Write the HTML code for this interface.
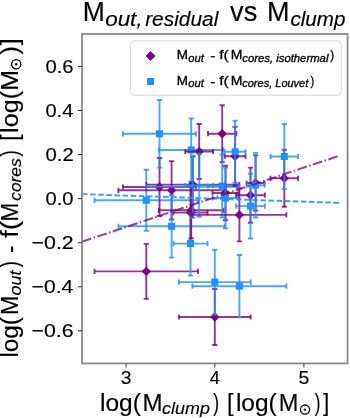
<!DOCTYPE html>
<html><head><meta charset="utf-8"><style>
html,body{margin:0;padding:0;background:#fff;}
body{width:350px;height:418px;overflow:hidden;}
svg{display:block;filter:blur(0.4px);}
text{font-family:"Liberation Sans",sans-serif;fill:#000;stroke:#000;stroke-width:0.15px;}
.lg text{stroke-width:0.3px;}
</style></head><body>
<svg width="350" height="418" viewBox="0 0 350 418">
<rect width="350" height="418" fill="#fff"/>
<g fill="none" stroke-linecap="butt">
<path d="M94.5 271.4H198.1M146.3 243.9V298.9" stroke="#800080" stroke-opacity="0.8" stroke-width="1.9"/><path d="M94.5 268.8v5.2M198.1 268.8v5.2M143.7 243.9h5.2M143.7 298.9h5.2" stroke="#800080" stroke-opacity="0.8" stroke-width="1.9"/><path d="M146.3 266.7L151.0 271.4L146.3 276.1L141.6 271.4Z" fill="#800080"/>
<path d="M94.5 200.3H198.1M146.3 169.8V230.8" stroke="#1e90ff" stroke-opacity="0.8" stroke-width="1.9"/><path d="M94.5 197.7v5.2M198.1 197.7v5.2M143.7 169.8h5.2M143.7 230.8h5.2" stroke="#1e90ff" stroke-opacity="0.8" stroke-width="1.9"/><rect x="142.8" y="196.8" width="7.0" height="7.0" fill="#1e90ff"/>
<path d="M122.9 187.0H196.1M159.5 158.0V216.0" stroke="#800080" stroke-opacity="0.8" stroke-width="1.9"/><path d="M122.9 184.4v5.2M196.1 184.4v5.2M156.9 158.0h5.2M156.9 216.0h5.2" stroke="#800080" stroke-opacity="0.8" stroke-width="1.9"/><path d="M159.5 182.3L164.2 187.0L159.5 191.7L154.8 187.0Z" fill="#800080"/>
<path d="M122.9 133.8H196.1M159.5 100.0V167.6" stroke="#1e90ff" stroke-opacity="0.8" stroke-width="1.9"/><path d="M122.9 131.2v5.2M196.1 131.2v5.2M156.9 100.0h5.2M156.9 167.6h5.2" stroke="#1e90ff" stroke-opacity="0.8" stroke-width="1.9"/><rect x="156.0" y="130.3" width="7.0" height="7.0" fill="#1e90ff"/>
<path d="M118.4 190.3H224.8M171.6 161.1V219.5" stroke="#800080" stroke-opacity="0.8" stroke-width="1.9"/><path d="M118.4 187.7v5.2M224.8 187.7v5.2M169.0 161.1h5.2M169.0 219.5h5.2" stroke="#800080" stroke-opacity="0.8" stroke-width="1.9"/><path d="M171.6 185.6L176.3 190.3L171.6 195.0L166.9 190.3Z" fill="#800080"/>
<path d="M118.4 226.3H224.8M171.6 195.0V257.6" stroke="#1e90ff" stroke-opacity="0.8" stroke-width="1.9"/><path d="M118.4 223.7v5.2M224.8 223.7v5.2M169.0 195.0h5.2M169.0 257.6h5.2" stroke="#1e90ff" stroke-opacity="0.8" stroke-width="1.9"/><rect x="168.1" y="222.8" width="7.0" height="7.0" fill="#1e90ff"/>
<path d="M173.5 212.6H207.5M190.5 184.6V240.6" stroke="#800080" stroke-opacity="0.8" stroke-width="1.9"/><path d="M173.5 210.0v5.2M207.5 210.0v5.2M187.9 184.6h5.2M187.9 240.6h5.2" stroke="#800080" stroke-opacity="0.8" stroke-width="1.9"/><path d="M190.5 207.9L195.2 212.6L190.5 217.3L185.8 212.6Z" fill="#800080"/>
<path d="M173.5 243.6H207.5M190.5 211.6V275.6" stroke="#1e90ff" stroke-opacity="0.8" stroke-width="1.9"/><path d="M173.5 241.0v5.2M207.5 241.0v5.2M187.9 211.6h5.2M187.9 275.6h5.2" stroke="#1e90ff" stroke-opacity="0.8" stroke-width="1.9"/><rect x="187.0" y="240.1" width="7.0" height="7.0" fill="#1e90ff"/>
<path d="M158.9 210.3H223.5M191.2 182.3V238.3" stroke="#800080" stroke-opacity="0.8" stroke-width="1.9"/><path d="M158.9 207.7v5.2M223.5 207.7v5.2M188.6 182.3h5.2M188.6 238.3h5.2" stroke="#800080" stroke-opacity="0.8" stroke-width="1.9"/><path d="M191.2 205.6L195.9 210.3L191.2 215.0L186.5 210.3Z" fill="#800080"/>
<path d="M158.9 150.0H223.5M191.2 118.5V181.5" stroke="#1e90ff" stroke-opacity="0.8" stroke-width="1.9"/><path d="M158.9 147.4v5.2M223.5 147.4v5.2M188.6 118.5h5.2M188.6 181.5h5.2" stroke="#1e90ff" stroke-opacity="0.8" stroke-width="1.9"/><rect x="187.7" y="146.5" width="7.0" height="7.0" fill="#1e90ff"/>
<path d="M146.3 184.6H239.3M192.8 156.6V212.6" stroke="#800080" stroke-opacity="0.8" stroke-width="1.9"/><path d="M146.3 182.0v5.2M239.3 182.0v5.2M190.2 156.6h5.2M190.2 212.6h5.2" stroke="#800080" stroke-opacity="0.8" stroke-width="1.9"/><path d="M192.8 179.9L197.5 184.6L192.8 189.3L188.1 184.6Z" fill="#800080"/>
<path d="M146.3 186.7H239.3M192.8 155.7V217.7" stroke="#1e90ff" stroke-opacity="0.8" stroke-width="1.9"/><path d="M146.3 184.1v5.2M239.3 184.1v5.2M190.2 155.7h5.2M190.2 217.7h5.2" stroke="#1e90ff" stroke-opacity="0.8" stroke-width="1.9"/>
<path d="M185.3 151.5H213.1M199.2 124.0V179.0" stroke="#800080" stroke-opacity="0.8" stroke-width="1.9"/><path d="M185.3 148.9v5.2M213.1 148.9v5.2M196.6 124.0h5.2M196.6 179.0h5.2" stroke="#800080" stroke-opacity="0.8" stroke-width="1.9"/><path d="M199.2 146.8L203.9 151.5L199.2 156.2L194.5 151.5Z" fill="#800080"/>
<path d="M185.3 185.3H213.1M199.2 153.8V216.8" stroke="#1e90ff" stroke-opacity="0.8" stroke-width="1.9"/><path d="M185.3 182.7v5.2M213.1 182.7v5.2M196.6 153.8h5.2M196.6 216.8h5.2" stroke="#1e90ff" stroke-opacity="0.8" stroke-width="1.9"/>
<path d="M178.9 317.0H250.7M214.8 289.0V345.0" stroke="#800080" stroke-opacity="0.8" stroke-width="1.9"/><path d="M178.9 314.4v5.2M250.7 314.4v5.2M212.2 289.0h5.2M212.2 345.0h5.2" stroke="#800080" stroke-opacity="0.8" stroke-width="1.9"/><path d="M214.8 312.3L219.5 317.0L214.8 321.7L210.1 317.0Z" fill="#800080"/>
<path d="M178.9 282.1H250.7M214.8 249.7V314.5" stroke="#1e90ff" stroke-opacity="0.8" stroke-width="1.9"/><path d="M178.9 279.5v5.2M250.7 279.5v5.2M212.2 249.7h5.2M212.2 314.5h5.2" stroke="#1e90ff" stroke-opacity="0.8" stroke-width="1.9"/><rect x="211.3" y="278.6" width="7.0" height="7.0" fill="#1e90ff"/>
<path d="M208.0 133.7H236.4M222.2 105.2V162.2" stroke="#800080" stroke-opacity="0.8" stroke-width="1.9"/><path d="M208.0 131.1v5.2M236.4 131.1v5.2M219.6 105.2h5.2M219.6 162.2h5.2" stroke="#800080" stroke-opacity="0.8" stroke-width="1.9"/><path d="M222.2 129.0L226.9 133.7L222.2 138.4L217.5 133.7Z" fill="#800080"/>
<path d="M208.0 186.0H236.4M222.2 154.5V217.5" stroke="#1e90ff" stroke-opacity="0.8" stroke-width="1.9"/><path d="M208.0 183.4v5.2M236.4 183.4v5.2M219.6 154.5h5.2M219.6 217.5h5.2" stroke="#1e90ff" stroke-opacity="0.8" stroke-width="1.9"/><rect x="218.7" y="182.5" width="7.0" height="7.0" fill="#1e90ff"/>
<path d="M212.5 193.0H238.5M225.5 165.8V220.2" stroke="#800080" stroke-opacity="0.8" stroke-width="1.9"/><path d="M212.5 190.4v5.2M238.5 190.4v5.2M222.9 165.8h5.2M222.9 220.2h5.2" stroke="#800080" stroke-opacity="0.8" stroke-width="1.9"/><path d="M225.5 188.3L230.2 193.0L225.5 197.7L220.8 193.0Z" fill="#800080"/>
<path d="M212.5 198.0H238.5M225.5 167.6V228.4" stroke="#1e90ff" stroke-opacity="0.8" stroke-width="1.9"/><path d="M212.5 195.4v5.2M238.5 195.4v5.2M222.9 167.6h5.2M222.9 228.4h5.2" stroke="#1e90ff" stroke-opacity="0.8" stroke-width="1.9"/><rect x="222.0" y="194.5" width="7.0" height="7.0" fill="#1e90ff"/>
<path d="M224.7 156.3H245.5M235.1 126.9V185.7" stroke="#800080" stroke-opacity="0.8" stroke-width="1.9"/><path d="M224.7 153.7v5.2M245.5 153.7v5.2M232.5 126.9h5.2M232.5 185.7h5.2" stroke="#800080" stroke-opacity="0.8" stroke-width="1.9"/><path d="M235.1 151.6L239.8 156.3L235.1 161.0L230.4 156.3Z" fill="#800080"/>
<path d="M224.7 151.8H245.5M235.1 120.8V182.8" stroke="#1e90ff" stroke-opacity="0.8" stroke-width="1.9"/><path d="M224.7 149.2v5.2M245.5 149.2v5.2M232.5 120.8h5.2M232.5 182.8h5.2" stroke="#1e90ff" stroke-opacity="0.8" stroke-width="1.9"/><rect x="231.6" y="148.3" width="7.0" height="7.0" fill="#1e90ff"/>
<path d="M192.4 214.9H286.4M239.4 188.4V241.4" stroke="#800080" stroke-opacity="0.8" stroke-width="1.9"/><path d="M192.4 212.3v5.2M286.4 212.3v5.2M236.8 188.4h5.2M236.8 241.4h5.2" stroke="#800080" stroke-opacity="0.8" stroke-width="1.9"/><path d="M239.4 210.2L244.1 214.9L239.4 219.6L234.7 214.9Z" fill="#800080"/>
<path d="M192.4 286.2H286.4M239.4 255.0V317.4" stroke="#1e90ff" stroke-opacity="0.8" stroke-width="1.9"/><path d="M192.4 283.6v5.2M286.4 283.6v5.2M236.8 255.0h5.2M236.8 317.4h5.2" stroke="#1e90ff" stroke-opacity="0.8" stroke-width="1.9"/><rect x="235.9" y="282.7" width="7.0" height="7.0" fill="#1e90ff"/>
<path d="M236.1 195.2H264.9M250.5 167.6V222.8" stroke="#800080" stroke-opacity="0.8" stroke-width="1.9"/><path d="M236.1 192.6v5.2M264.9 192.6v5.2M247.9 167.6h5.2M247.9 222.8h5.2" stroke="#800080" stroke-opacity="0.8" stroke-width="1.9"/><path d="M250.5 190.5L255.2 195.2L250.5 199.9L245.8 195.2Z" fill="#800080"/>
<path d="M236.1 206.1H264.9M250.5 173.7V238.5" stroke="#1e90ff" stroke-opacity="0.8" stroke-width="1.9"/><path d="M236.1 203.5v5.2M264.9 203.5v5.2M247.9 173.7h5.2M247.9 238.5h5.2" stroke="#1e90ff" stroke-opacity="0.8" stroke-width="1.9"/><rect x="247.0" y="202.6" width="7.0" height="7.0" fill="#1e90ff"/>
<path d="M246.6 183.0H264.6M255.6 155.4V210.6" stroke="#800080" stroke-opacity="0.8" stroke-width="1.9"/><path d="M246.6 180.4v5.2M264.6 180.4v5.2M253.0 155.4h5.2M253.0 210.6h5.2" stroke="#800080" stroke-opacity="0.8" stroke-width="1.9"/><path d="M255.6 178.3L260.3 183.0L255.6 187.7L250.9 183.0Z" fill="#800080"/>
<path d="M246.6 185.2H264.6M255.6 152.9V217.5" stroke="#1e90ff" stroke-opacity="0.8" stroke-width="1.9"/><path d="M246.6 182.6v5.2M264.6 182.6v5.2M253.0 152.9h5.2M253.0 217.5h5.2" stroke="#1e90ff" stroke-opacity="0.8" stroke-width="1.9"/><rect x="252.1" y="181.7" width="7.0" height="7.0" fill="#1e90ff"/>
<path d="M270.5 178.3H298.1M284.3 149.8V206.8" stroke="#800080" stroke-opacity="0.8" stroke-width="1.9"/><path d="M270.5 175.7v5.2M298.1 175.7v5.2M281.7 149.8h5.2M281.7 206.8h5.2" stroke="#800080" stroke-opacity="0.8" stroke-width="1.9"/><path d="M284.3 173.6L289.0 178.3L284.3 183.0L279.6 178.3Z" fill="#800080"/>
<path d="M270.5 156.5H298.1M284.3 124.0V189.0" stroke="#1e90ff" stroke-opacity="0.8" stroke-width="1.9"/><path d="M270.5 153.9v5.2M298.1 153.9v5.2M281.7 124.0h5.2M281.7 189.0h5.2" stroke="#1e90ff" stroke-opacity="0.8" stroke-width="1.9"/><rect x="280.8" y="153.0" width="7.0" height="7.0" fill="#1e90ff"/>
</g>
<path d="M82 194.1L339.4 202.9" stroke="#1e90ff" stroke-opacity="0.85" stroke-width="2" stroke-dasharray="5.66 2.45" fill="none"/>
<path d="M82 241.7L337.9 156.2" stroke="#800080" stroke-opacity="0.75" stroke-width="2.1" stroke-dasharray="9.8 2.45 1.53 2.45" fill="none"/>
<rect x="82" y="34" width="265.6" height="329.4" fill="none" stroke="#8a8a8a" stroke-width="1.8"/>
<rect x="130.4" y="40.9" width="210.9" height="54.3" rx="3.5" fill="#fff" fill-opacity="0.8" stroke="#dadada" stroke-width="1"/>
<path d="M150.5 51L155.5 56L150.5 61L145.5 56Z" fill="#800080"/>
<rect x="147" y="78" width="7" height="7" fill="#1e90ff"/>
<path d="M78 66.4H82" stroke="#333" stroke-width="1"/>
<text x="45.51" y="72.90" font-size="18.5" textLength="28.08" lengthAdjust="spacingAndGlyphs">0.6</text>
<path d="M78 110.5H82" stroke="#333" stroke-width="1"/>
<text x="45.52" y="117.00" font-size="18.5" textLength="27.77" lengthAdjust="spacingAndGlyphs">0.4</text>
<path d="M78 154.5H82" stroke="#333" stroke-width="1"/>
<text x="45.51" y="161.00" font-size="18.5" textLength="28.21" lengthAdjust="spacingAndGlyphs">0.2</text>
<path d="M78 198.6H82" stroke="#333" stroke-width="1"/>
<text x="45.51" y="205.10" font-size="18.5" textLength="27.97" lengthAdjust="spacingAndGlyphs">0.0</text>
<path d="M78 242.7H82" stroke="#333" stroke-width="1"/>
<text x="31.55" y="249.20" font-size="18.5" textLength="42.23" lengthAdjust="spacingAndGlyphs">−0.2</text>
<path d="M78 286.8H82" stroke="#333" stroke-width="1"/>
<text x="31.56" y="293.30" font-size="18.5" textLength="41.76" lengthAdjust="spacingAndGlyphs">−0.4</text>
<path d="M78 330.8H82" stroke="#333" stroke-width="1"/>
<text x="31.55" y="337.30" font-size="18.5" textLength="42.09" lengthAdjust="spacingAndGlyphs">−0.6</text>
<path d="M126.1 363.5V367.5" stroke="#333" stroke-width="1"/>
<text x="120.76" y="383.60" font-size="18.5" textLength="10.79" lengthAdjust="spacingAndGlyphs">3</text>
<path d="M214.8 363.5V367.5" stroke="#333" stroke-width="1"/>
<text x="209.78" y="383.60" font-size="18.5" textLength="10.15" lengthAdjust="spacingAndGlyphs">4</text>
<path d="M303.9 363.5V367.5" stroke="#333" stroke-width="1"/>
<text x="298.52" y="383.60" font-size="18.5" textLength="10.79" lengthAdjust="spacingAndGlyphs">5</text>
<text x="82.63" y="21.30" font-size="28" textLength="22.04" lengthAdjust="spacingAndGlyphs">M</text>
<text x="105.17" y="26.30" font-size="19.5" font-style="italic" textLength="37.44" lengthAdjust="spacingAndGlyphs">out,</text>
<text x="145.15" y="26.30" font-size="19.5" font-style="italic" textLength="73.18" lengthAdjust="spacingAndGlyphs">residual</text>
<text x="230.11" y="21.30" font-size="28" textLength="27.17" lengthAdjust="spacingAndGlyphs">vs</text>
<text x="266.98" y="21.30" font-size="28" textLength="22.54" lengthAdjust="spacingAndGlyphs">M</text>
<text x="290.42" y="26.30" font-size="19.5" font-style="italic" textLength="55.04" lengthAdjust="spacingAndGlyphs">clump</text>
<g class="lg">
<text x="176.70" y="59.20" font-size="13.2" textLength="11.21" lengthAdjust="spacingAndGlyphs">M</text>
<text x="188.23" y="61.80" font-size="10" font-style="italic" textLength="15.58" lengthAdjust="spacingAndGlyphs">out</text>
<text x="210.23" y="60.00" font-size="13.2" textLength="5.05" lengthAdjust="spacingAndGlyphs">-</text>
<text x="219.18" y="59.20" font-size="13.2" textLength="9.51" lengthAdjust="spacingAndGlyphs">f(</text>
<text x="230.85" y="59.20" font-size="13.2" textLength="11.71" lengthAdjust="spacingAndGlyphs">M</text>
<text x="242.23" y="61.80" font-size="10" font-style="italic" textLength="86.22" lengthAdjust="spacingAndGlyphs">cores, isothermal</text>
<text x="330.33" y="59.20" font-size="13.2" textLength="3.89" lengthAdjust="spacingAndGlyphs">)</text>
<text x="176.70" y="84.70" font-size="13.2" textLength="11.21" lengthAdjust="spacingAndGlyphs">M</text>
<text x="188.23" y="87.30" font-size="10" font-style="italic" textLength="15.58" lengthAdjust="spacingAndGlyphs">out</text>
<text x="210.23" y="85.50" font-size="13.2" textLength="5.05" lengthAdjust="spacingAndGlyphs">-</text>
<text x="219.18" y="84.70" font-size="13.2" textLength="9.51" lengthAdjust="spacingAndGlyphs">f(</text>
<text x="230.85" y="84.70" font-size="13.2" textLength="11.71" lengthAdjust="spacingAndGlyphs">M</text>
<text x="242.24" y="87.30" font-size="10" font-style="italic" textLength="66.08" lengthAdjust="spacingAndGlyphs">cores, Louvet</text>
<text x="310.43" y="84.70" font-size="13.2" textLength="3.77" lengthAdjust="spacingAndGlyphs">)</text>
</g>
<text x="99.95" y="411.00" font-size="23" textLength="40.90" lengthAdjust="spacingAndGlyphs">log(</text>
<text x="142.53" y="411.00" font-size="23" textLength="20.05" lengthAdjust="spacingAndGlyphs">M</text>
<text x="162.11" y="414.20" font-size="17" font-style="italic" textLength="47.76" lengthAdjust="spacingAndGlyphs">clump</text>
<text x="213.20" y="411.00" font-size="23" textLength="5.78" lengthAdjust="spacingAndGlyphs">)</text>
<text x="227.11" y="411.00" font-size="23" textLength="6.57" lengthAdjust="spacingAndGlyphs">[</text>
<text x="235.95" y="411.00" font-size="23" textLength="40.79" lengthAdjust="spacingAndGlyphs">log(</text>
<text x="278.66" y="411.00" font-size="23" textLength="19.68" lengthAdjust="spacingAndGlyphs">M</text>
<circle cx="305.0" cy="409.6" r="4.6" fill="none" stroke="#000" stroke-width="1.3"/><circle cx="305.0" cy="409.6" r="1.2" fill="#000"/>
<text x="314.80" y="411.00" font-size="23" textLength="5.65" lengthAdjust="spacingAndGlyphs">)</text>
<text x="322.92" y="411.00" font-size="23" textLength="6.29" lengthAdjust="spacingAndGlyphs">]</text>
<g transform="translate(18 356) rotate(-90)"><text x="-1.64" y="0.00" font-size="23" textLength="40.58" lengthAdjust="spacingAndGlyphs">log(</text><text x="41.10" y="0.00" font-size="23" textLength="19.30" lengthAdjust="spacingAndGlyphs">M</text><text x="60.51" y="2.60" font-size="17" font-style="italic" textLength="24.87" lengthAdjust="spacingAndGlyphs">out</text><text x="88.69" y="0.00" font-size="23" textLength="6.03" lengthAdjust="spacingAndGlyphs">)</text><text x="102.90" y="0.00" font-size="23" textLength="7.50" lengthAdjust="spacingAndGlyphs">-</text><text x="118.00" y="0.00" font-size="23" textLength="17.16" lengthAdjust="spacingAndGlyphs">f(</text><text x="134.56" y="0.00" font-size="23" textLength="18.68" lengthAdjust="spacingAndGlyphs">M</text><text x="155.23" y="2.60" font-size="17" font-style="italic" textLength="42.53" lengthAdjust="spacingAndGlyphs">cores</text><text x="199.39" y="0.00" font-size="23" textLength="6.28" lengthAdjust="spacingAndGlyphs">)</text><text x="215.25" y="0.00" font-size="23" textLength="6.43" lengthAdjust="spacingAndGlyphs">[</text><text x="223.11" y="0.00" font-size="23" textLength="41.94" lengthAdjust="spacingAndGlyphs">log(</text><text x="265.35" y="0.00" font-size="23" textLength="20.80" lengthAdjust="spacingAndGlyphs">M</text><circle cx="291.7" cy="-1.8" r="4.6" fill="none" stroke="#000" stroke-width="1.3"/><circle cx="291.7" cy="-1.8" r="1.2" fill="#000"/><text x="301.55" y="0.00" font-size="23" textLength="8.42" lengthAdjust="spacingAndGlyphs">)</text><text x="310.80" y="0.00" font-size="23" textLength="6.99" lengthAdjust="spacingAndGlyphs">]</text></g>
</svg>
</body></html>
